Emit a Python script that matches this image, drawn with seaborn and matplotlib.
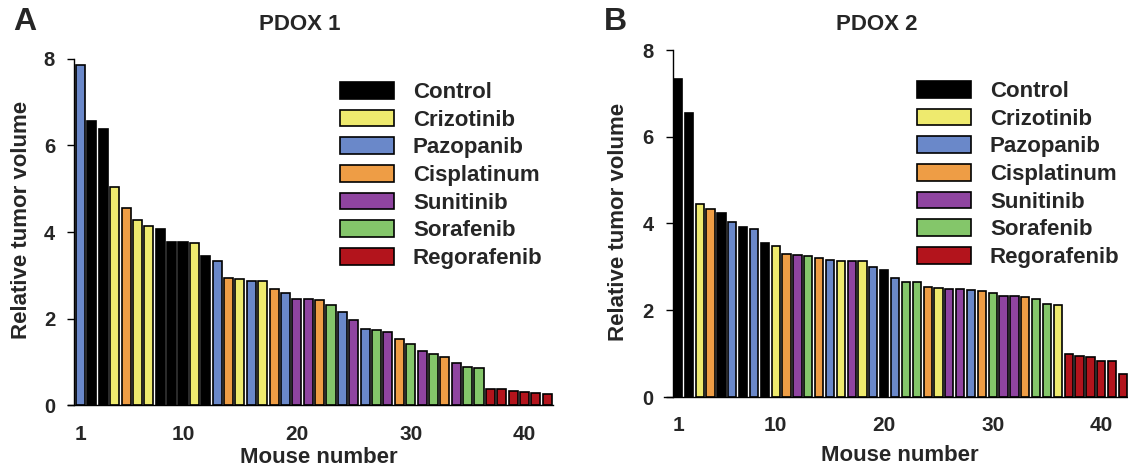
import matplotlib
matplotlib.use("Agg")
import matplotlib.pyplot as plt
from matplotlib.patches import Patch
import seaborn as sns
import pandas as pd

# ---------------- data ----------------
treatments = ["Control", "Crizotinib", "Pazopanib", "Cisplatinum",
              "Sunitinib", "Sorafenib", "Regorafenib"]
treatment_colors = ["#000000", "#EEEA6E", "#6A88C9", "#EE9D45",
                    "#8F44A0", "#84C66A", "#B3141C"]

pdox1_values = [7.85, 6.57, 6.39, 5.05, 4.56, 4.27, 4.13, 4.07, 3.77, 3.76,
                3.75, 3.45, 3.33, 2.94, 2.92, 2.86, 2.86, 2.69, 2.60, 2.45,
                2.45, 2.43, 2.31, 2.14, 1.96, 1.75, 1.73, 1.69, 1.52, 1.41,
                1.25, 1.17, 1.12, 0.96, 0.88, 0.85, 0.38, 0.38, 0.32, 0.29,
                0.28, 0.25]
pdox1_groups = ["Pazopanib", "Control", "Control", "Crizotinib", "Cisplatinum",
                "Crizotinib", "Crizotinib", "Control", "Control", "Control",
                "Crizotinib", "Control", "Pazopanib", "Cisplatinum", "Crizotinib",
                "Pazopanib", "Crizotinib", "Cisplatinum", "Pazopanib", "Sunitinib",
                "Sunitinib", "Cisplatinum", "Sorafenib", "Pazopanib", "Sunitinib",
                "Pazopanib", "Sorafenib", "Sunitinib", "Cisplatinum", "Sorafenib",
                "Sunitinib", "Sorafenib", "Cisplatinum", "Sunitinib", "Sorafenib",
                "Sorafenib", "Regorafenib", "Regorafenib", "Regorafenib",
                "Regorafenib", "Regorafenib", "Regorafenib"]

pdox2_values = [7.33, 6.54, 4.44, 4.34, 4.25, 4.04, 3.92, 3.88, 3.54, 3.48,
                3.29, 3.28, 3.24, 3.20, 3.15, 3.14, 3.14, 3.13, 2.99, 2.92,
                2.75, 2.66, 2.66, 2.54, 2.51, 2.49, 2.49, 2.47, 2.45, 2.39,
                2.34, 2.34, 2.30, 2.25, 2.15, 2.12, 0.99, 0.95, 0.92, 0.84,
                0.82, 0.54]
pdox2_groups = ["Control", "Control", "Crizotinib", "Cisplatinum", "Control",
                "Pazopanib", "Control", "Pazopanib", "Control", "Crizotinib",
                "Cisplatinum", "Sunitinib", "Sorafenib", "Cisplatinum", "Pazopanib",
                "Crizotinib", "Sunitinib", "Crizotinib", "Pazopanib", "Control",
                "Pazopanib", "Sorafenib", "Sorafenib", "Cisplatinum", "Crizotinib",
                "Sunitinib", "Sunitinib", "Pazopanib", "Cisplatinum", "Sorafenib",
                "Sunitinib", "Sunitinib", "Cisplatinum", "Sorafenib", "Sorafenib",
                "Crizotinib", "Regorafenib", "Regorafenib", "Regorafenib",
                "Regorafenib", "Regorafenib", "Regorafenib"]

x_ticks = [1, 10, 20, 30, 40]
y_ticks = [0, 2, 4, 6, 8]
titles = ["PDOX 1", "PDOX 2"]
panel_letters = ["A", "B"]
x_label = "Mouse number"
y_label = "Relative tumor volume"

# ---------------- style ----------------
sns.set_style("white")
plt.rcParams["font.family"] = ["Liberation Sans", "DejaVu Sans"]
plt.rcParams["font.weight"] = "bold"

palette = dict(zip(treatments, treatment_colors))
W, H = 1128, 469
fig = plt.figure(figsize=(W / 100, H / 100), dpi=100)

def px_axes(left, right, top, bottom):
    return fig.add_axes([left / W, 1 - bottom / H, (right - left) / W, (bottom - top) / H])

panels = [
    dict(values=pdox1_values, groups=pdox1_groups,
         box=(68, 553, 59, 405), xlim=(-0.1, 42.5), spine=0.47, width=0.8,
         xpad=14.5, title_xy=(300, 25), letter_xy=(25, 22), ylab_xy=(22, 220),
         xlab_xy=(319, 457), leg_xy=(340, 82)),
    dict(values=pdox2_values, groups=pdox2_groups,
         box=(664, 1128, 50, 397), xlim=(-0.29, 42.46), spine=0.54, width=0.76,
         xpad=14, title_xy=(877, 25), letter_xy=(615, 22), ylab_xy=(619, 222),
         xlab_xy=(900, 455), leg_xy=(917, 81)),
]

for i, p in enumerate(panels):
    df = pd.DataFrame({"mouse": list(range(1, len(p["values"]) + 1)),
                       "volume": p["values"], "treatment": p["groups"]})
    ax = px_axes(*p["box"])
    sns.barplot(data=df, x="mouse", y="volume", hue="treatment", palette=palette,
                hue_order=treatments, native_scale=True, dodge=False,
                width=p["width"], saturation=1, edgecolor="black", linewidth=1.2,
                legend=False, ax=ax)
    ax.set_xlim(*p["xlim"])
    ax.set_ylim(0, 8)
    ax.set_xticks(x_ticks)
    ax.set_yticks(y_ticks)
    ax.set_xlabel("")
    ax.set_ylabel("")
    for s in ["top", "right"]:
        ax.spines[s].set_visible(False)
    ax.spines["left"].set_position(("data", p["spine"]))
    for s in ["left", "bottom"]:
        ax.spines[s].set_color("black")
        ax.spines[s].set_linewidth(1.0)
    ax.tick_params(axis="x", length=0, pad=p["xpad"], labelsize=15)
    ax.tick_params(axis="y", length=5, width=1.0, pad=9, labelsize=14.5,
                   left=True, color="black")
    for lab in ax.get_xticklabels() + ax.get_yticklabels():
        lab.set_fontweight("bold")

    handles = [Patch(facecolor=c, edgecolor="black", linewidth=1.2, label=t)
               for t, c in zip(treatments, treatment_colors)]
    lx, ly = p["leg_xy"]
    ax.legend(handles=handles, loc="upper left",
              bbox_to_anchor=(lx / W, 1 - ly / H), bbox_transform=fig.transFigure,
              frameon=False, borderpad=0, borderaxespad=0,
              handlelength=2.43, handleheight=0.77, handletextpad=0.85,
              labelspacing=0.3, prop=dict(size=16, weight="bold"))

    fig.text(p["title_xy"][0] / W, 1 - p["title_xy"][1] / H, titles[i],
             ha="center", va="center", fontsize=16, fontweight="bold")
    fig.text(p["letter_xy"][0] / W, 1 - p["letter_xy"][1] / H, panel_letters[i],
             ha="center", va="center", fontsize=23, fontweight="bold")
    fig.text(p["ylab_xy"][0] / W, 1 - p["ylab_xy"][1] / H, y_label,
             ha="center", va="center", rotation=90, fontsize=16, fontweight="bold")
    fig.text(p["xlab_xy"][0] / W, 1 - p["xlab_xy"][1] / H, x_label,
             ha="center", va="center", fontsize=16, fontweight="bold")

fig.savefig("out.png", dpi=100)
